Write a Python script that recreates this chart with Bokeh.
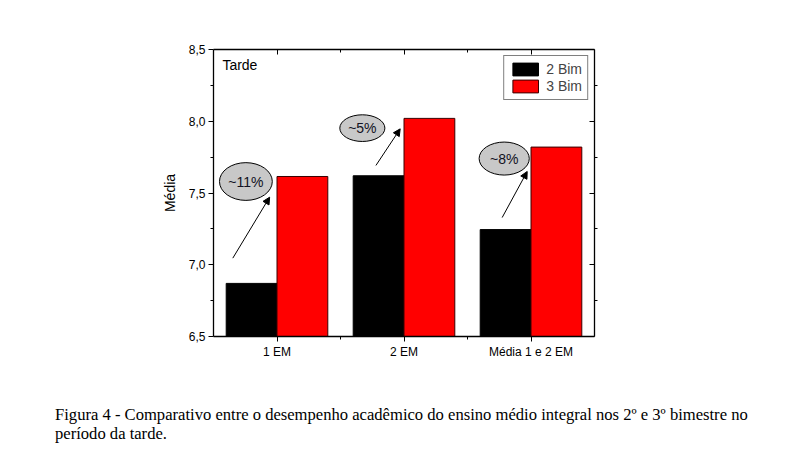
from bokeh.plotting import figure
from bokeh.models import (ColumnDataSource, FixedTicker, LinearAxis, Range1d, Legend, LegendItem,
                          Label, Arrow, NormalHead, CustomJSTickFormatter, Div)
from bokeh.layouts import column
from bokeh.core.properties import value
from bokeh.embed import file_html
from bokeh.resources import INLINE

# ---- data ----
categories = ["1 EM", "2 EM", "Média 1 e 2 EM"]
bim2 = [6.87, 7.62, 7.245]
bim3 = [7.615, 8.02, 7.82]
series_names = ["2 Bim", "3 Bim"]

# annotations (data units)
ann_text = ["~11%", "~5%", "~8%"]
ann_x = [0.755, 1.672, 2.789]
ann_y = [7.58, 7.952, 7.74]
ann_w = [0.416, 0.355, 0.395]
ann_h = [0.263, 0.186, 0.23]
arrow_x0 = [0.652, 1.779, 2.773]
arrow_y0 = [7.046, 7.692, 7.329]
arrow_x1 = [0.942, 1.970, 2.970]
arrow_y1 = [7.471, 7.947, 7.650]

caption = ("Figura 4 - Comparativo entre o desempenho acadêmico do ensino médio integral nos 2º e 3º bimestre no"
           "<br>período da tarde.")

FONT = "Liberation Sans"
pos = [i + 1 for i in range(len(categories))]
bar_w = 0.4

p = figure(width=798, height=366, output_backend="svg", toolbar_location=None,
           x_range=Range1d(0.5, 3.5), y_range=Range1d(6.5, 8.5),
           min_border_left=213, min_border_right=204, min_border_top=49, min_border_bottom=30,
           background_fill_color="white", border_fill_color="white")
p.grid.visible = False
p.outline_line_color = None

src = ColumnDataSource(dict(x2=[x - bar_w / 2 for x in pos], x3=[x + bar_w / 2 for x in pos],
                            b2=bim2, b3=bim3))
r2 = p.vbar(x="x2", top="b2", bottom=6.5, width=bar_w, source=src,
            fill_color="black", line_color="black", line_width=1)
r3 = p.vbar(x="x3", top="b3", bottom=6.5, width=bar_w, source=src,
            fill_color="#ff0000", line_color="#3a0000", line_width=1)

# axes
xt = FixedTicker(ticks=pos, minor_ticks=[1.5, 2.5])
yt = FixedTicker(ticks=[6.5, 7.0, 7.5, 8.0, 8.5], minor_ticks=[6.75, 7.25, 7.75, 8.25])

xa = p.xaxis[0]
xa.ticker = xt
xa.major_label_overrides = {x: c for x, c in zip(pos, categories)}
ya = p.yaxis[0]
ya.ticker = yt
ya.formatter = CustomJSTickFormatter(code="return tick.toFixed(1).replace('.', ',');")
ya.axis_label = "Média"
ya.axis_label_standoff = 8

for ax in (xa, ya):
    ax.axis_line_color = "black"
    ax.axis_line_width = 1.3
    ax.major_tick_in = 0
    ax.major_tick_out = 5
    ax.minor_tick_in = 0
    ax.minor_tick_out = 3
    ax.major_label_text_font = FONT
    ax.major_label_text_font_size = "12px"
    ax.major_label_text_color = "black"
    ax.axis_label_text_font = FONT
    ax.axis_label_text_font_size = "14px"
    ax.axis_label_text_font_style = "normal"
    ax.axis_label_text_color = "black"
    ax.major_label_standoff = 3

top = LinearAxis(ticker=xt, major_label_text_color=None, major_tick_in=5, major_tick_out=0,
                 minor_tick_in=3, minor_tick_out=0, axis_line_width=1.3)
right = LinearAxis(ticker=yt, major_label_text_color=None, major_tick_in=5, major_tick_out=0,
                   minor_tick_in=0, minor_tick_out=3, axis_line_width=1.3)
p.add_layout(top, "above")
p.add_layout(right, "right")

# annotations
asrc = ColumnDataSource(dict(x=ann_x, y=ann_y, w=ann_w, h=ann_h, t=ann_text))
p.ellipse(x="x", y="y", width="w", height="h", source=asrc,
          fill_color="#c8c8c8", line_color="black", line_width=1)
p.text(x="x", y="y", text="t", source=asrc, text_align="center", text_baseline="middle",
       text_font=value(FONT), text_font_size="14px", text_color="#111122")
for x0, y0, x1, y1 in zip(arrow_x0, arrow_y0, arrow_x1, arrow_y1):
    p.add_layout(Arrow(x_start=x0, y_start=y0, x_end=x1, y_end=y1, line_width=1,
                       end=NormalHead(size=7, fill_color="black", line_color="black")))

p.add_layout(Label(x=0.57, y=8.389, text="Tarde", text_font=FONT, text_font_size="14px",
                   text_baseline="middle", text_align="left", text_color="black"))

legend = Legend(items=[LegendItem(label=series_names[0], renderers=[r2]),
                       LegendItem(label=series_names[1], renderers=[r3])],
                location="top_right", margin=6, padding=5, spacing=1,
                glyph_width=32, glyph_height=16, label_standoff=5,
                label_text_font=FONT, label_text_font_size="14px", label_height=16,
                border_line_color="black", border_line_width=1, background_fill_alpha=1)
p.add_layout(legend)

div = Div(text=caption, width=780, margin=(39, 0, 0, 55),
          styles={"font-family": "Liberation Serif", "font-size": "16.6px", "line-height": "19px",
                  "color": "black", "white-space": "nowrap"})

page = column(p, div)
open("out.html", "w").write(file_html(page, INLINE))
